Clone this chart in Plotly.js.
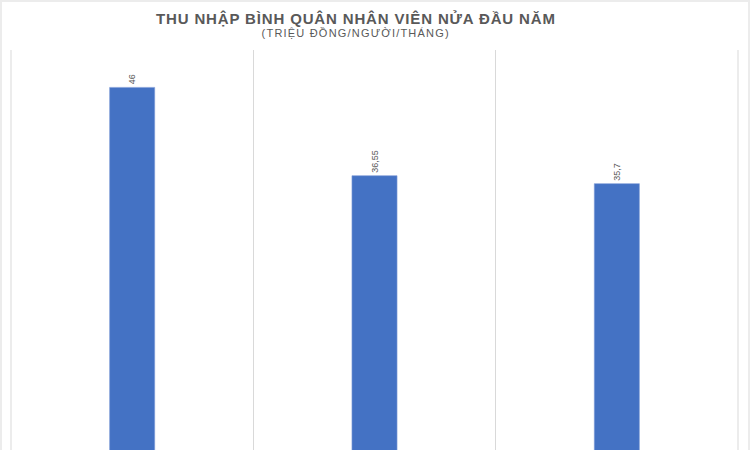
<!DOCTYPE html>
<html><head><meta charset="utf-8">
<script src="https://cdn.plot.ly/plotly-3.0.1.min.js"></script>
<style>
html,body{margin:0;padding:0;background:#fff;}
#wrap{position:relative;width:750px;height:450px;}
#chart{width:750px;height:450px;}
#frame{position:absolute;left:0;top:0;width:750px;height:450px;box-sizing:border-box;border-top:2px solid #ececec;border-left:2px solid #ececec;border-right:2px solid #ececec;pointer-events:none;}
</style></head>
<body><div id="wrap"><div id="chart"></div><div id="frame"></div></div>
<script>
var categories = ["Nhóm 1", "Nhóm 2", "Nhóm 3"];
var values = [46, 36.55, 35.7];
var valueLabels = ["46", "36,55", "35,7"];
var titleText = "THU NHẬP BÌNH QUÂN NHÂN VIÊN NỬA ĐẦU NĂM";
var subtitleText = "(TRIỆU ĐỒNG/NGƯỜI/THÁNG)";

var trace = {
  type: "bar",
  x: categories,
  y: values,
  text: valueLabels,
  textposition: "outside",
  textangle: -90,
  cliponaxis: false,
  textfont: {family: "Liberation Sans, Arial, sans-serif", size: 9, color: "#595959"},
  marker: {color: "#4472C4", line: {color: "#7d9bd6", width: 0.6}},
  width: 0.186,
  hoverinfo: "none"
};

var layout = {
  width: 750, height: 450,
  margin: {l: 11, r: 12, t: 50, b: 0, pad: 0},
  paper_bgcolor: "#ffffff",
  plot_bgcolor: "#ffffff",
  showlegend: false,
  xaxis: {
    type: "category",
    tickson: "boundaries",
    showgrid: true,
    gridcolor: "#d9d9d9",
    gridwidth: 1,
    showticklabels: false,
    ticks: "",
    zeroline: false,
    showline: false,
    range: [-0.5, 2.5],
    fixedrange: true
  },
  yaxis: {
    range: [7.2, 50],
    showgrid: false,
    showticklabels: false,
    ticks: "",
    zeroline: false,
    showline: false,
    fixedrange: true
  },
  shapes: [
    {type: "line", xref: "paper", yref: "paper", x0: 0, x1: 0, y0: 0, y1: 1, line: {color: "#d9d9d9", width: 1}},
    {type: "line", xref: "paper", yref: "paper", x0: 1, x1: 1, y0: 0, y1: 1, line: {color: "#d9d9d9", width: 1}}
  ],
  annotations: [
    {text: "<b>" + titleText + "</b>", xref: "paper", yref: "paper", x: 0.5, y: 1, yshift: 32, xshift: -19,
     xanchor: "center", yanchor: "middle", showarrow: false,
     font: {family: "Liberation Sans, Arial, sans-serif", size: 15, color: "#595959"}},
    {text: subtitleText, xref: "paper", yref: "paper", x: 0.5, y: 1, yshift: 17, xshift: -19,
     xanchor: "center", yanchor: "middle", showarrow: false,
     font: {family: "Liberation Sans, Arial, sans-serif", size: 11, color: "#595959"}}
  ]
};

Plotly.newPlot("chart", [trace], layout, {staticPlot: true, displayModeBar: false}).then(function(){
  var t = document.querySelectorAll(".annotation-text");
  if (t[0]) t[0].style.letterSpacing = "0.85px";
  if (t[1]) t[1].style.letterSpacing = "1.2px";
});
</script>
</body></html>
